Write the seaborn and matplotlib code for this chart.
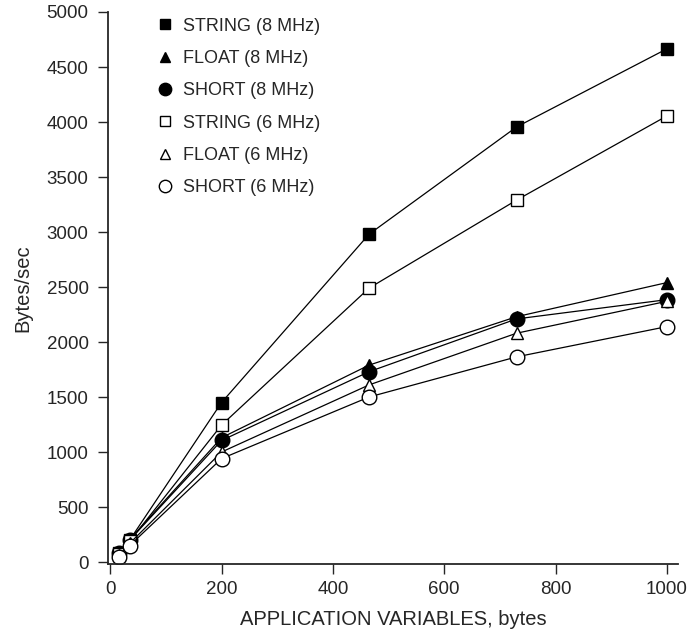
import matplotlib
matplotlib.use("Agg")
import matplotlib.pyplot as plt
import seaborn as sns
import pandas as pd

# application variables (bytes)
app_vars = [15, 35, 200, 465, 730, 1000]

string_8 = [80, 200, 1450, 2980, 3955, 4665]
float_8 = [90, 205, 1130, 1790, 2230, 2540]
short_8 = [85, 200, 1105, 1730, 2210, 2385]
string_6 = [70, 190, 1245, 2490, 3290, 4055]
float_6 = [60, 170, 1000, 1610, 2080, 2370]
short_6 = [50, 150, 940, 1500, 1865, 2140]

labels = ["STRING (8 MHz)", "FLOAT (8 MHz)", "SHORT (8 MHz)",
          "STRING (6 MHz)", "FLOAT (6 MHz)", "SHORT (6 MHz)"]
series = [string_8, float_8, short_8, string_6, float_6, short_6]
markers = ["s", "^", "o", "s", "^", "o"]
sizes = [8, 8.5, 10.5, 8, 8.5, 10.5]
filled = [True, True, True, False, False, False]

sns.set_style("ticks")
plt.rcParams["font.family"] = ["Liberation Sans", "DejaVu Sans"]

fig = plt.figure(figsize=(6.97, 6.35), dpi=100)
ax = fig.add_axes([108 / 697, 71 / 635, 570 / 697, 552 / 635])

handles = []
for lab, vals, m, ms, f in zip(labels, series, markers, sizes, filled):
    df = pd.DataFrame({"x": app_vars, "y": vals})
    sns.lineplot(data=df, x="x", y="y", ax=ax, color="black", linewidth=0.9,
                 marker=m, markersize=ms, markeredgecolor="black",
                 markeredgewidth=1.0,
                 markerfacecolor="black" if f else "white")
    handles.append(plt.Line2D([], [], linestyle="none", marker=m, markersize=ms * 0.85,
                              markeredgecolor="black", markeredgewidth=1.0,
                              markerfacecolor="black" if f else "white", label=lab))

ax.set_xlim(-4, 1020)
ax.set_ylim(-18, 5000)
ax.set_xticks([0, 200, 400, 600, 800, 1000])
ax.set_yticks(range(0, 5001, 500))
ax.tick_params(labelsize=13.5, length=7, width=1, direction="out")
ax.tick_params(axis="x", pad=5)
ax.tick_params(axis="y", pad=7)
ax.set_xlabel("APPLICATION VARIABLES, bytes", fontsize=14.5, labelpad=9)
ax.set_ylabel("Bytes/sec", fontsize=14.5, labelpad=10)
sns.despine(ax=ax)
ax.spines["left"].set_linewidth(1.3)
ax.spines["bottom"].set_linewidth(1.3)

ax.legend(handles=handles, loc="upper left", bbox_to_anchor=(0.069, 1.003),
          frameon=False, fontsize=13, labelspacing=0.85, handletextpad=0.4,
          handlelength=1.2, borderaxespad=0)

fig.savefig("out.png", dpi=100)
